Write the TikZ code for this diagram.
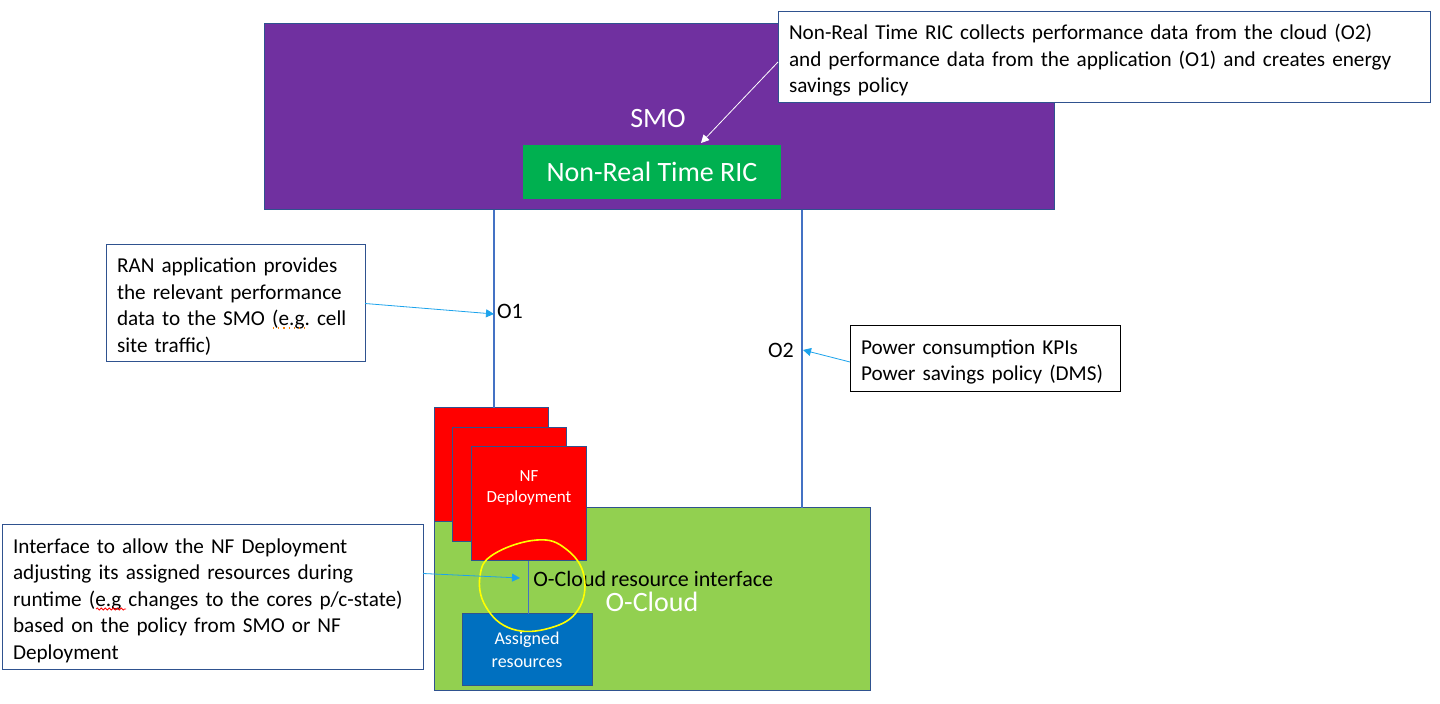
\documentclass[tikz,border=0pt]{standalone}
\usepackage{fontspec}
\setmainfont{Carlito}
\frenchspacing
\usetikzlibrary{arrows.meta,decorations.pathmorphing,calc}
\definecolor{smoc}{HTML}{7030A0}
\definecolor{ricc}{HTML}{00B050}
\definecolor{occ}{HTML}{92D050}
\definecolor{nfc}{HTML}{FF0000}
\definecolor{asc}{HTML}{0070C0}
\definecolor{edgec}{HTML}{2F528F}
\definecolor{ifc}{HTML}{4472C4}
\definecolor{arrc}{HTML}{1CA3EC}
\definecolor{hlc}{HTML}{FFFF00}
\newcommand{\myCalloutLine}[1]{\mbox{#1}}
\newcommand{\myTopStrut}{\rule{0pt}{10.5pt}}
\tikzset{
  blockbox/.style={draw=edgec, line width=0.5pt, inner sep=0pt, outer sep=0pt},
  callout/.style={draw=edgec, fill=white, line width=0.5pt, inner xsep=5.5pt, inner ysep=0pt,
     align=left, font=\fontsize{10.6}{13.2}\selectfont, outer sep=0pt},
  ifline/.style={draw=ifc, line width=0.8pt},
  callarrow/.style={draw=arrc, line width=0.4pt, -{Triangle[length=4pt,width=4pt]}},
  whitetext/.style={text=white, inner sep=0pt, align=center},
}
\begin{document}
\begin{tikzpicture}[x=0.5pt,y=-0.5pt]
\useasboundingbox (0,0) rectangle (1440,704);
\fill[white] (0,0) rectangle (1440,704);

% SMO
\node[blockbox, fill=smoc, minimum width=395pt, minimum height=93pt] (smo) at (659,117) {};
\node[whitetext, font=\fontsize{14}{16}\selectfont] (smolabel) at (658,119) {SMO};
\node[blockbox, draw=none, fill=ricc, minimum width=129pt, minimum height=27pt,
      whitetext, font=\fontsize{14}{16}\selectfont] (ric) at (652,172) {Non-Real Time RIC};

% O-Cloud
\node[blockbox, fill=occ, minimum width=218pt, minimum height=91.5pt] (ocloud) at (652,599.5) {};

% O1 / O2 lines
\coordinate (o1a) at (494,210);
\coordinate (o2a) at (802,210);
\node[blockbox, fill=nfc, minimum width=57pt, minimum height=57pt] (nf1) at (491,465) {};
\node[blockbox, fill=nfc, minimum width=57pt, minimum height=57pt] (nf2) at (509.5,485) {};
\node[blockbox, fill=nfc, minimum width=57.5pt, minimum height=57pt] (nf3) at (528.5,504) {};
\node[whitetext, font=\fontsize{8.5}{10.5}\selectfont] (nftext) at (529,488) {NF\\Deployment};
\draw[ifline] (o1a) -- (o1a |- nf1.north);
\draw[ifline] (o2a) -- (o2a |- ocloud.north);
\node[inner sep=0pt, font=\fontsize{11}{13}\selectfont] (o1lab) at (510,311) {O1};
\node[inner sep=0pt, font=\fontsize{11}{13}\selectfont] (o2lab) at (781,350) {O2};

\node[whitetext, font=\fontsize{14}{16}\selectfont] (oclabel) at (652,602) {O-Cloud};

% Assigned resources
\node[blockbox, fill=asc, minimum width=65pt, minimum height=36pt,
      whitetext, font=\fontsize{9}{11.5}\selectfont] (asg) at (527,650) {Assigned\\resources};
\draw[ifline] (nf3.south) -- (nf3.south |- asg.north);
\node[anchor=west, inner sep=0pt, font=\fontsize{11}{13}\selectfont] (rilab) at (533,579) {O-Cloud resource interface};

% yellow hand-drawn mark
\draw[hlc, line width=0.8pt] plot[smooth cycle, tension=0.7] coordinates
  {(537,540) (566,549) (584,576) (578,610) (550,628) (512,629) (486,607) (480,576) (494,554)};

% Callouts
\node[callout, minimum width=326pt, minimum height=45.5pt, text width=315pt] (topc) at (1104,57.5)
  {\myCalloutLine{\myTopStrut Non-Real Time RIC collects performance data from the cloud (O2)}\\\myCalloutLine{and performance data from the application (O1) and creates energy}\\\myCalloutLine{savings policy}};
\node[callout, minimum width=129.5pt, minimum height=58.5pt, text width=118.5pt] (ranc) at (235.5,303.5)
  {\myCalloutLine{\myTopStrut RAN application provides}\\\myCalloutLine{the relevant performance}\\\myCalloutLine{data to the SMO (e.g. cell}\\\myCalloutLine{site traffic)}};
\node[callout, draw=black, minimum width=135pt, minimum height=33pt, text width=124pt] (powc) at (985,359)
  {\myCalloutLine{\myTopStrut Power consumption KPIs}\\\myCalloutLine{Power savings policy (DMS)}};
\node[callout, minimum width=210.5pt, minimum height=72.5pt, text width=199.5pt] (botc) at (212.5,597.5)
  {\myCalloutLine{\myTopStrut Interface to allow the NF Deployment}\\\myCalloutLine{adjusting its assigned resources during}\\\myCalloutLine{runtime (e.g changes to the cores p/c-state)}\\\myCalloutLine{based on the policy from SMO or NF}\\\myCalloutLine{Deployment}};

% spell-check marks
\draw[red, line width=0.4pt, decorate, decoration={snake, amplitude=0.5pt, segment length=2pt}] (96,609) -- (126,609);
\draw[orange, line width=0.6pt, dotted] (273,328) -- (309,328);

% arrows
\coordinate (ricp) at (701,143);
\coordinate (o1p) at (494,314);
\coordinate (o2p) at (803,350);
\coordinate (ifp) at (520,578);
\draw[white, line width=0.4pt, -{Triangle[length=4pt,width=4pt]}] ($(topc.north west)+(0,50)$) -- (ricp);
\draw[callarrow] (ranc.east) -- (o1p);
\draw[callarrow] ([yshift=-1.5pt]powc.west) -- (o2p);
\draw[callarrow] ([yshift=12pt]botc.east) -- (ifp);
\end{tikzpicture}
\end{document}
